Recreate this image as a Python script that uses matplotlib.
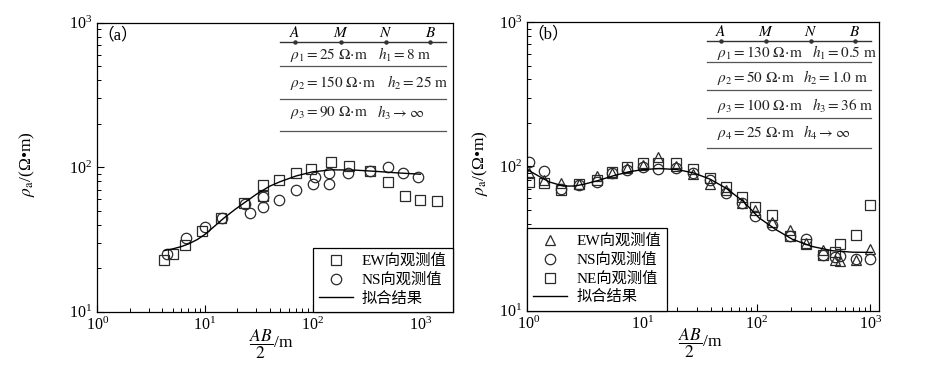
import numpy as np
import matplotlib
matplotlib.use("Agg")
import matplotlib.pyplot as plt
from matplotlib.ticker import LogLocator, NullFormatter

plt.rcParams['font.family'] = ['Liberation Serif', 'Noto Sans CJK SC', 'DejaVu Sans']
plt.rcParams['mathtext.fontset'] = 'stix'
plt.rcParams['axes.unicode_minus'] = False

# ---- panel (a) data ----
xa_ew = [4.17, 5.08, 6.5, 9.4, 14.0, 23.2, 34.3, 34.3, 48.9, 69.4, 96.2, 146.6, 218, 342, 496, 717, 1000, 1441]
ya_ew = [22.8, 25.1, 29.0, 36.1, 44.8, 56.8, 75.3, 63.5, 81.5, 90.8, 96.6, 109, 102, 94.6, 79, 63.2, 59.3, 58.6]
xa_ns = [4.47, 6.66, 10, 14.4, 23.7, 26.2, 34.3, 34.3, 48.9, 69.4, 99.8, 106, 141, 141, 211, 342, 502, 692, 952]
ya_ns = [25.1, 32.5, 38.5, 44.8, 55.3, 48, 62.5, 52.7, 59.3, 69.5, 76.2, 86, 76.2, 91.6, 90.8, 94.6, 100.7, 91.6, 86]
xa_fit = [4.2, 5, 6, 7, 8.5, 10, 12, 15, 19, 23, 30, 40, 50, 70, 100, 150, 250, 400, 600, 1000]
ya_fit = [26.5, 27.2, 28.2, 29.4, 31.6, 34.3, 38.5, 44.5, 51, 56.5, 65, 74, 79.5, 87, 93, 96, 95.5, 93.5, 91.5, 89.5]

# ---- panel (b) data ----
xb = [0.99, 1.36, 1.91, 2.75, 3.93, 5.33, 7.33, 10, 13.7, 19.6, 27.5, 39.1, 54, 74.3, 97.3,
      136, 195, 273, 388, 491, 543, 747, 998]
yb_ew = [89.6, 80, 76.4, 76, 85.7, 90, 97, 102, 115.6, 100, 88.5, 75.5, 69, 55.5, 49.5,
         41, 36.2, 29.5, 26.3, 22.5, 21.9, 22.5, 26.8]
yb_ns = [108, 93.3, 70, 74, 78, 90, 95, 99.5, 96, 98, 90, 80, 65.7, 56, 45.3,
         39.3, 33, 31.2, 24.3, 23.7, 24, 22.7, 22.7]
yb_ne = [78.3, 76.4, 68.6, 75.5, 80, 91.9, 99.5, 105, 106, 105, 96, 82.6, 72.2, 61.6, 52.1,
         46, 33, 29, 24.3, 25.6, 29, 33.5, 54]
xb_fit = [0.97, 1.2, 1.5, 2.0, 2.5, 3.0, 4.0, 5.5, 7.5, 10, 14, 20, 28, 39, 54, 77, 105,
          150, 207, 310, 465, 700, 1050]
yb_fit = [94.5, 86, 78, 73, 73, 75, 79.5, 86, 91.5, 95, 96.5, 95, 90, 81.5, 70.5, 56.9, 44,
          36.2, 31.2, 27.8, 26, 25.4, 25.3]

rows_a = [(r'$\rho_1 = 25\ \Omega\!\cdot\!\mathrm{m}$', r'$h_1 = 8\ \mathrm{m}$'),
          (r'$\rho_2 = 150\ \Omega\!\cdot\!\mathrm{m}$', r'$h_2 = 25\ \mathrm{m}$'),
          (r'$\rho_3 = 90\ \Omega\!\cdot\!\mathrm{m}$', r'$h_3 \rightarrow \infty$')]
rows_b = [(r'$\rho_1 = 130\ \Omega\!\cdot\!\mathrm{m}$', r'$h_1 = 0.5\ \mathrm{m}$'),
          (r'$\rho_2 = 50\ \Omega\!\cdot\!\mathrm{m}$', r'$h_2 = 1.0\ \mathrm{m}$'),
          (r'$\rho_3 = 100\ \Omega\!\cdot\!\mathrm{m}$', r'$h_3 = 36\ \mathrm{m}$'),
          (r'$\rho_4 = 25\ \Omega\!\cdot\!\mathrm{m}$', r'$h_4 \rightarrow \infty$')]
electrodes = ['A', 'M', 'N', 'B']

mk = dict(linestyle='none', mfc='none', mec='#2a2a2a', mew=0.9)
fs = 11
tfs = 11

fig = plt.figure(figsize=(9.26, 3.68), dpi=100)
ax1 = fig.add_axes([0.105, 0.153, 0.384, 0.785])
ax2 = fig.add_axes([0.5695, 0.156, 0.380, 0.784])


def style_axes(ax, xlim):
    ax.set_xscale('log')
    ax.set_yscale('log')
    ax.set_xlim(*xlim)
    ax.set_ylim(10, 1000)
    ax.xaxis.set_major_locator(LogLocator(base=10, numticks=10))
    ax.yaxis.set_major_locator(LogLocator(base=10, numticks=10))
    ax.xaxis.set_minor_locator(LogLocator(base=10, subs=np.arange(2, 10), numticks=20))
    ax.yaxis.set_minor_locator(LogLocator(base=10, subs=np.arange(2, 10), numticks=20))
    ax.xaxis.set_minor_formatter(NullFormatter())
    ax.yaxis.set_minor_formatter(NullFormatter())
    ax.tick_params(which='both', direction='in', top=False, right=False, labelsize=11.5)
    ax.tick_params(which='major', length=5, width=0.8)
    ax.tick_params(which='minor', length=3, width=0.7)
    for s in ax.spines.values():
        s.set_linewidth(0.9)
    ax.set_xlabel(r'$\dfrac{AB}{2}$/m', fontsize=12.5)
    ax.xaxis.set_label_coords(0.49, -0.055)
    ax.set_ylabel(r'$\rho_\mathrm{a}$/(Ω•m)', fontsize=12.5)


def table(ax, x0, x1, yhead, dots, rows, row_y, hx, lines_y):
    ax.plot([x0, x1], [yhead, yhead], color='#333333', lw=1.0, transform=ax.transAxes)
    for d, lab in zip(dots, electrodes):
        ax.plot([d], [yhead], 'o', ms=2.2, color='#333333', transform=ax.transAxes)
        ax.text(d, yhead + 0.008, r'$%s$' % lab, ha='center', va='bottom', fontsize=tfs,
                transform=ax.transAxes)
    for (rho, h), ry, hxx in zip(rows, row_y, hx):
        ax.text(x0 + 0.028, ry, rho, ha='left', va='center', fontsize=tfs, color='#222222',
                transform=ax.transAxes)
        ax.text(hxx, ry, h, ha='left', va='center', fontsize=tfs, color='#222222',
                transform=ax.transAxes)
    for ly in lines_y:
        ax.plot([x0, x1], [ly, ly], color='#555555', lw=0.9, transform=ax.transAxes)


# ---- (a) ----
style_axes(ax1, (1, 2000))
ax1.plot(xa_ew, ya_ew, marker='s', ms=6.5, label='EW向观测值', **mk)
ax1.plot(xa_ns, ya_ns, marker='o', ms=7.5, label='NS向观测值', **mk)
ax1.plot(xa_fit, ya_fit, color='black', lw=1.0, label='拟合结果')
ax1.yaxis.set_label_coords(-0.17, 0.51)
ax1.text(0.0, 0.957, '（a）', transform=ax1.transAxes, ha='left', va='center', fontsize=12)
table(ax1, 0.514, 0.981, 0.934, [0.556, 0.685, 0.812, 0.936], rows_a,
      [0.888, 0.793, 0.689], [0.790, 0.816, 0.788], [0.851, 0.738, 0.625])
leg1 = ax1.legend(loc='lower right', borderaxespad=0, fancybox=False, edgecolor='black',
                  framealpha=1, fontsize=fs, handlelength=2.2, handletextpad=0.6,
                  labelspacing=0.3, borderpad=0.4)
leg1.get_frame().set_linewidth(0.9)

# ---- (b) ----
style_axes(ax2, (0.965, 1200))
ax2.plot(xb, yb_ew, marker='^', ms=7.5, label='EW向观测值', **mk)
ax2.plot(xb, yb_ns, marker='o', ms=7.5, label='NS向观测值', **mk)
ax2.plot(xb, yb_ne, marker='s', ms=6.5, label='NE向观测值', **mk)
ax2.plot(xb_fit, yb_fit, color='black', lw=1.0, label='拟合结果')
ax2.yaxis.set_label_coords(-0.105, 0.51)
ax2.text(0.0, 0.957, '（b）', transform=ax2.transAxes, ha='left', va='center', fontsize=12)
table(ax2, 0.511, 0.976, 0.935, [0.549, 0.677, 0.805, 0.931], rows_b,
      [0.893, 0.806, 0.710, 0.617], [0.808, 0.784, 0.808, 0.784], [0.860, 0.764, 0.668, 0.562])
leg2 = ax2.legend(loc='lower left', borderaxespad=0, fancybox=False, edgecolor='black',
                  framealpha=1, fontsize=fs, handlelength=2.2, handletextpad=0.6,
                  labelspacing=0.3, borderpad=0.4)
leg2.get_frame().set_linewidth(0.9)

fig.savefig('out.png', dpi=100)
